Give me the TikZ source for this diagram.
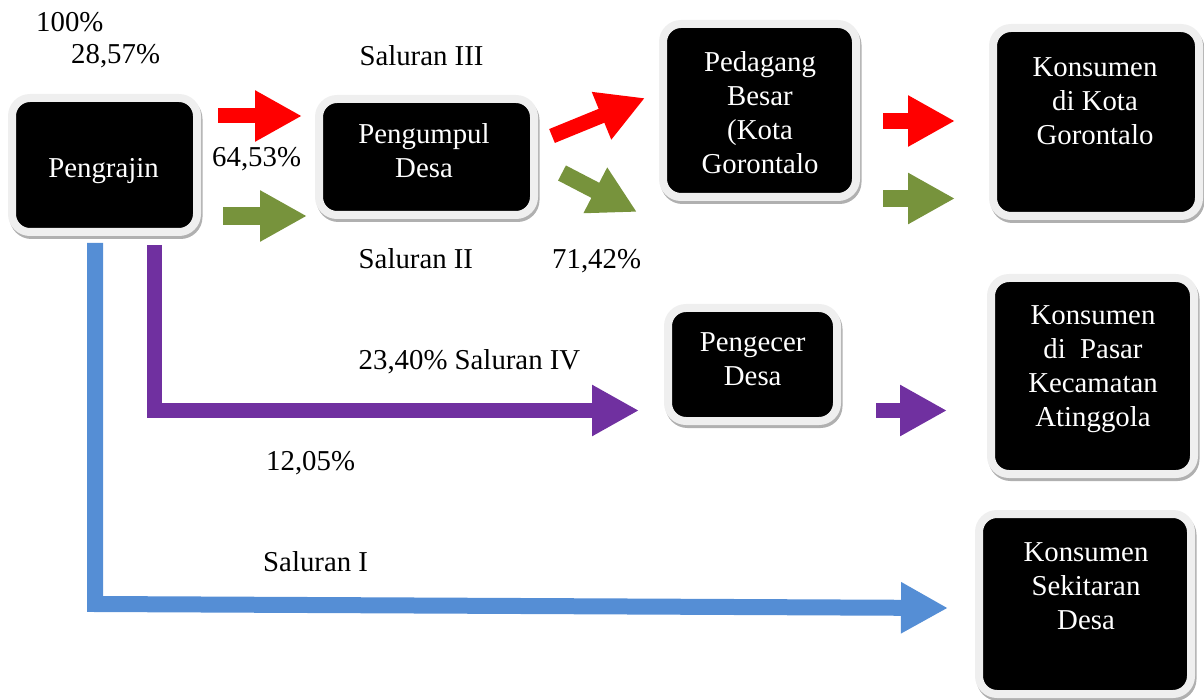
\documentclass[tikz,border=0pt]{standalone}
\usepackage{fontspec}
\setmainfont{Liberation Serif}
\usetikzlibrary{arrows.meta}
\definecolor{redflow}{HTML}{FF0000}
\definecolor{greenflow}{HTML}{77933C}
\definecolor{purpleflow}{HTML}{7030A0}
\definecolor{blueflow}{HTML}{558ED5}
\definecolor{framefill}{HTML}{EFEFEF}
\definecolor{frameshade}{HTML}{B0B0B0}

\begin{document}
\begin{tikzpicture}[x=1pt,y=-1pt,
  stage/.style={rectangle, rounded corners=18pt, fill=black, draw=framefill,
    line width=8pt, inner sep=0pt,
    preaction={draw=frameshade, line width=8pt,
      transform canvas={xshift=1.5pt,yshift=-3pt}}},
  stagetext/.style={text=white, align=center, inner sep=0pt,
    font=\fontsize{28.8}{34}\selectfont},
  pct/.style={anchor=base west, inner sep=0pt,
    font=\fontsize{28.8}{34}\selectfont},
  flow/.style={line width=15pt, -{Triangle[length=47pt,width=48pt]}},
]
\useasboundingbox (0,0) rectangle (1204,700);

% ---- actors of the marketing chain ----
\node[stage, minimum width=185pt, minimum height=134pt] (pengrajin) at (104.5,165) {};
\node[stage, minimum width=215pt, minimum height=116pt] (pengumpul) at (426.5,157) {};
\node[stage, minimum width=193pt, minimum height=173pt] (pedagang) at (759.5,110.5) {};
\node[stage, minimum width=206pt, minimum height=188pt] (kota) at (1096,122) {};
\node[stage, minimum width=169pt, minimum height=113pt] (pengecer) at (752.5,364.5) {};
\node[stage, minimum width=203pt, minimum height=196pt] (pasar) at (1092.5,376) {};
\node[stage, minimum width=212pt, minimum height=180pt] (sekitar) at (1085,604) {};

\node[stagetext] (pengrajin-t) at (103.5,171.3) {Pengrajin};
\node[stagetext] (pengumpul-t) at (424,150.2) {Pengumpul\\Desa};
\node[stagetext] (pedagang-t) at (760,112.8) {Pedagang\\Besar\\(Kota\\Gorontalo};
\node[stagetext] (kota-t) at (1095,101.2) {Konsumen\\di Kota\\Gorontalo};
\node[stagetext] (pengecer-t) at (752.7,359.2) {Pengecer\\Desa};
\node[stagetext] (pasar-t) at (1093,369.6) {Konsumen\\di\ \ Pasar\\Kecamatan\\Atinggola};
\node[stagetext] (sekitar-t) at (1086,586.2) {Konsumen\\Sekitaran\\Desa};

% ---- shares and channel names ----
\node[pct] (p100) at (36,32) {100\%};
\node[pct] (p2857) at (71,63.3) {28,57\%};
\node[pct] (s3) at (359.3,65.7) {Saluran III};
\node[pct] (p6453) at (212,167) {64,53\%};
\node[pct] (s2) at (358.5,268.3) {Saluran II};
\node[pct] (p7142) at (552,268.3) {71,42\%};
\node[pct] (s4) at (358.5,370) {23,40\% Saluran IV};
\node[pct] (p1205) at (266,470.7) {12,05\%};
\node[pct] (s1) at (263,571.7) {Saluran I};

% ---- flow arrows ----
\coordinate (r1s) at (218,116);   \coordinate (r1e) at (302,116);
\coordinate (g1s) at (223,216);   \coordinate (g1e) at (307,216);
\coordinate (r2s) at (552,136);   \coordinate (r2e) at (645,98);
\coordinate (g2s) at (562,173);   \coordinate (g2e) at (637,212);
\coordinate (r3s) at (883,121);   \coordinate (r3e) at (955,121);
\coordinate (g3s) at (883,198.5); \coordinate (g3e) at (955,198.5);
\coordinate (v3s) at (876,410.5); \coordinate (v3e) at (947,410.5);
\coordinate (v1s) at (154.5,245); \coordinate (v1e) at (639,410.5);
\coordinate (b1s) at (95,243);    \coordinate (b1c) at (95,604);
\coordinate (b1e) at (948,608);

\draw[flow, redflow] (r1s) -- (r1e);
\draw[flow, greenflow, line width=18pt] (g1s) -- (g1e);
\draw[flow, redflow] (r2s) -- (r2e);
\draw[flow, greenflow, line width=17pt] (g2s) -- (g2e);
\draw[flow, redflow, line width=16pt] (r3s) -- (r3e);
\draw[flow, greenflow, line width=17pt] (g3s) -- (g3e);
\draw[flow, purpleflow] (v3s) -- (v3e);
\draw[flow, purpleflow] (v1s) |- (v1e);
\draw[flow, blueflow, line width=16pt] (b1s) -- (b1c) -- (b1e);
\end{tikzpicture}
\end{document}
